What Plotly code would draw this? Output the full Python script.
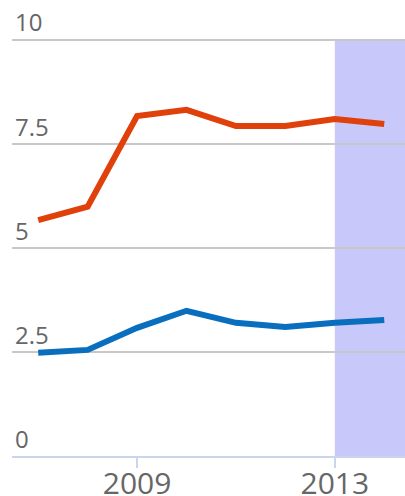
import plotly.graph_objects as go

years = [2007, 2008, 2009, 2010, 2011, 2012, 2013, 2014]
series_orange = [5.67, 5.99, 8.17, 8.32, 7.93, 7.93, 8.10, 7.98]
series_blue = [2.48, 2.55, 3.08, 3.49, 3.20, 3.10, 3.20, 3.27]
y_ticks = [0, 2.5, 5, 7.5, 10]
y_tick_labels = ["0", "2.5", "5", "7.5", "10"]
x_ticks = [2009, 2013]
x_tick_labels = ["2009", "2013"]
shade_start = 2013
shade_end = 2014.42

fig = go.Figure()
fig.add_shape(type="rect", xref="x", yref="y", x0=shade_start, x1=shade_end,
              y0=0, y1=10, fillcolor="rgb(200,200,250)", line_width=0, layer="below")
fig.add_trace(go.Scatter(x=years, y=series_orange, mode="lines",
                         line=dict(color="#e0400a", width=6), hoverinfo="skip"))
fig.add_trace(go.Scatter(x=years, y=series_blue, mode="lines",
                         line=dict(color="#0a6ebe", width=6), hoverinfo="skip"))

fig.update_layout(
    width=405, height=496,
    margin=dict(l=12, r=0, t=2, b=40),
    paper_bgcolor="white", plot_bgcolor="rgba(0,0,0,0)",
    showlegend=False,
    font=dict(family="Open Sans", color="#666666"),
    xaxis=dict(range=[2006.47, shade_end], tickvals=x_ticks, ticktext=x_tick_labels,
               showgrid=False, zeroline=False, showline=True, linecolor="#c8d8ea",
               linewidth=2, ticks="",
               minor=dict(tickvals=x_ticks, ticks="outside", ticklen=10, tickwidth=2,
                          tickcolor="#c8d8ea", showgrid=False),
               automargin=False, tickfont=dict(size=30, color="#666666")),
    yaxis=dict(range=[0, 10.91], tickvals=y_ticks, ticktext=y_tick_labels,
               showgrid=True, gridcolor="#c8c8c8", gridwidth=2, zeroline=False,
               automargin=False, layer="above traces",
               ticklabelposition="inside top", tickfont=dict(size=24, color="#666666")),
)

fig.write_html("out.html", config={"displayModeBar": False},
               post_script="document.body.style.margin='0';document.body.style.overflow='hidden';")
